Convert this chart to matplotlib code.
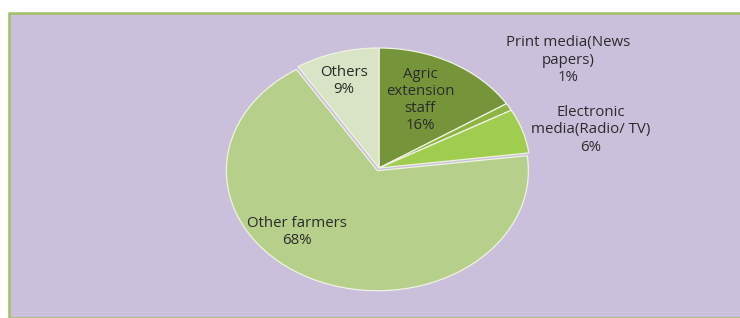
import matplotlib.pyplot as plt
from matplotlib.patches import Rectangle

# source shares (%), clockwise from 12 o'clock
sources = ['Agric extension staff', 'Print media(News papers)', 'Electronic media(Radio/ TV)',
           'Other farmers', 'Others']
shares = [16, 1, 6, 68, 9]
label_text = ['Agric\nextension\nstaff\n16%', 'Print media(News\npapers)\n1%',
              'Electronic\nmedia(Radio/ TV)\n6%', 'Other farmers\n68%', 'Others\n9%']
colors = ['#76943a', '#8db341', '#a0cd50', '#b6cf8a', '#d9e4c6']
explode = [0, 0, 0, 0.025, 0]

W, H = 740, 318
fig = plt.figure(figsize=(W / 100, H / 100), dpi=100)
fig.patch.set_facecolor('white')

# purple panel with green border, kept behind the pie
fig.patches.append(Rectangle((9 / W, 0), 1, 1 - 13 / H, transform=fig.transFigure,
                             facecolor='#cbc0dc', edgecolor='#a3c063', linewidth=1.8,
                             zorder=-5))

# pie is a flattened ellipse: rx=151px, ry=120px, centre (379, 168)
cx, cy, rx, ry = 379, 168, 151, 120
lim = 1.2
ax = fig.add_axes([(cx - lim * rx) / W, (H - cy - lim * ry) / H,
                   2 * lim * rx / W, 2 * lim * ry / H])
ax.set_zorder(1)
wedges, _ = ax.pie(shares, colors=colors, startangle=90, counterclock=False,
                   explode=explode,
                   wedgeprops=dict(edgecolor='#eef3e2', linewidth=0.9))
for w in wedges:
    w.set_clip_on(False)
ax.set_aspect('auto')
ax.set_xlim(-lim, lim)
ax.set_ylim(-lim, lim)
ax.axis('off')

# label positions in pixels (x, y centre)
label_pos = [(420, 100), (568, 60), (591, 130), (297, 232), (344, 81)]
for txt, (x, y) in zip(label_text, label_pos):
    fig.text(x / W, 1 - y / H, txt, ha='center', va='center', fontsize=10.8,
             family='Open Sans', color='#2b2b2b', linespacing=1.2, zorder=5)

fig.savefig('out.png', dpi=100)
